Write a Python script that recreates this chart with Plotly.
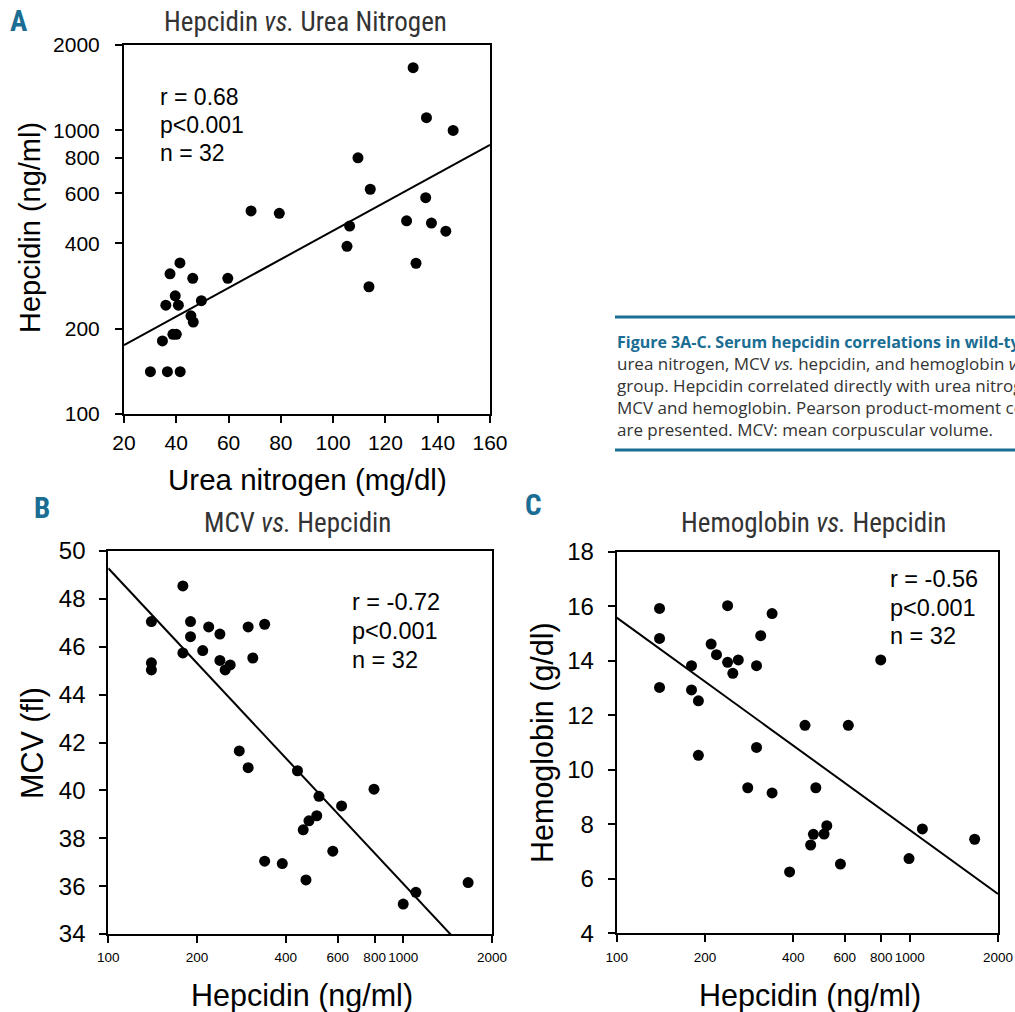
import plotly.graph_objects as go
import numpy as np

# ---------------- data ----------------
# Panel A: Hepcidin vs Urea nitrogen
urea_a = [30.1, 36.6, 41.5, 34.7, 38.7, 40.0, 45.6, 46.5, 36.0, 40.8, 39.6, 49.6,
          37.6, 41.4, 46.3, 59.7, 68.6, 79.4, 105.3, 106.3, 109.5, 114.2, 113.7,
          130.6, 135.7, 145.9, 135.4, 128.1, 137.6, 143.1, 131.7]
hep_a = [141, 141, 141, 181, 191, 191, 222, 211, 242, 242, 261, 251,
         312, 341, 301, 301, 520, 510, 390, 460, 800, 620, 281,
         1663, 1109, 1000, 579, 480, 471, 441, 340]
fit_a = {"intercept": 2.142, "slope": 0.005043}   # log10(hep) = a + b*urea

# Panel B: MCV vs Hepcidin
hep_b = [140, 140, 140, 179, 179, 190, 190, 209, 219, 239, 239, 249, 259, 298, 309, 339,
         278, 298, 438, 518, 509, 479, 458, 618, 577, 339, 389, 468, 796, 1000, 1104, 1660]
mcv_b = [47.05, 45.33, 45.03, 48.54, 45.74, 47.05, 46.42, 45.84, 46.83, 46.53, 45.43, 45.03,
         45.24, 46.83, 45.53, 46.94, 41.65, 40.95, 40.82, 39.75, 38.94, 38.73, 38.35, 39.35,
         37.46, 37.04, 36.94, 36.26, 40.05, 35.25, 35.74, 36.15]
fit_b = {"intercept": 75.64, "slope": -13.18}     # mcv = a + b*log10(hep)

# Panel C: Hemoglobin vs Hepcidin
hep_c = [140, 140, 140, 180, 180, 190, 190, 210, 219, 239, 239, 260, 249, 300, 300, 310,
         339, 280, 339, 439, 478, 469, 459, 510, 521, 389, 580, 617, 796, 994, 1104, 1665]
hgb_c = [15.92, 14.82, 13.02, 13.82, 12.93, 12.53, 10.53, 14.61, 14.22, 16.02, 13.94, 14.03,
         13.54, 13.82, 10.82, 14.92, 15.73, 9.34, 9.15, 11.63, 9.34, 7.63, 7.24, 7.64,
         7.95, 6.25, 6.54, 11.63, 14.03, 6.74, 7.83, 7.45]
fit_c = {"intercept": 31.17, "slope": -7.794}     # hgb = a + b*log10(hep)

hep_ticks = [100, 200, 400, 600, 800, 1000, 2000]
hep_ticks_a = [100, 200, 400, 600, 800, 1000, 2000]
urea_ticks = [20, 40, 60, 80, 100, 120, 140, 160]
mcv_ticks = [34, 36, 38, 40, 42, 44, 46, 48, 50]
hgb_ticks = [4, 6, 8, 10, 12, 14, 16, 18]

stats_a = ["r = 0.68", "p<0.001", "n = 32"]
stats_b = ["r = -0.72", "p<0.001", "n = 32"]
stats_c = ["r = -0.56", "p<0.001", "n = 32"]

caption_lines = [
    "urea nitrogen, MCV <i>vs.</i> hepcidin, and hemoglobin <i>vs.</i> hepcidin",
    "group. Hepcidin correlated directly with urea nitrogen and inversely",
    "MCV and hemoglobin. Pearson product-moment correlation coefficients",
    "are presented. MCV: mean corpuscular volume.",
]
caption_title = "<b>Figure 3A-C. Serum hepcidin correlations in wild-type mice</b>"

# ---------------- figure ----------------
W, H = 1015, 1012
def px(x):
    return x / W
def py(y):
    return 1 - y / H

BLUE = "#1a6d93"
AX_FONT = "Liberation Sans, Arial, sans-serif"
NARROW = "Liberation Sans Narrow, Roboto Condensed, Arial Narrow, Roboto, sans-serif"

fig = go.Figure()
marker = dict(color="black", size=11)

fig.add_trace(go.Scatter(x=urea_a, y=hep_a, mode="markers", marker=marker,
                         xaxis="x", yaxis="y", showlegend=False))
ua = np.array([20, 160])
fig.add_trace(go.Scatter(x=ua, y=10 ** (fit_a["intercept"] + fit_a["slope"] * ua),
                         mode="lines", line=dict(color="black", width=2),
                         xaxis="x", yaxis="y", showlegend=False))

fig.add_trace(go.Scatter(x=hep_b, y=mcv_b, mode="markers", marker=marker,
                         xaxis="x2", yaxis="y2", showlegend=False))
hb = np.array([100, 2000])
fig.add_trace(go.Scatter(x=hb, y=fit_b["intercept"] + fit_b["slope"] * np.log10(hb),
                         mode="lines", line=dict(color="black", width=2),
                         xaxis="x2", yaxis="y2", showlegend=False))

fig.add_trace(go.Scatter(x=hep_c, y=hgb_c, mode="markers", marker=marker,
                         xaxis="x3", yaxis="y3", showlegend=False))
fig.add_trace(go.Scatter(x=hb, y=fit_c["intercept"] + fit_c["slope"] * np.log10(hb),
                         mode="lines", line=dict(color="black", width=2),
                         xaxis="x3", yaxis="y3", showlegend=False))

def axis(domain, anchor, ticks, rng, typ="linear", fsize=19, standoff=6):
    return dict(domain=domain, anchor=anchor, type=typ, range=rng, automargin=False,
                tickmode="array", tickvals=ticks, ticktext=[str(t) for t in ticks],
                tickangle=0,
                showline=True, linecolor="black", linewidth=2, mirror=True,
                ticks="outside", ticklen=7, tickwidth=2, tickcolor="black",
                showgrid=False, zeroline=False, ticklabelstandoff=standoff,
                tickfont=dict(family=AX_FONT, size=fsize, color="black"))

fig.update_layout(
    template="none",
    width=W, height=H, margin=dict(l=0, r=0, t=0, b=0, pad=0),
    paper_bgcolor="white", plot_bgcolor="white",
    xaxis=axis([px(124), px(490)], "y", urea_ticks, [20, 160], fsize=21, standoff=2),
    yaxis=axis([py(414), py(45)], "x", hep_ticks_a, [2, np.log10(2000)], "log", fsize=21, standoff=11),
    xaxis2=axis([px(108.3), px(492)], "y2", hep_ticks, [2, np.log10(2000)], "log", fsize=13.5, standoff=3),
    yaxis2=axis([py(934), py(551)], "x2", mcv_ticks, [34, 50], fsize=24, standoff=9),
    xaxis3=axis([px(616.7), px(998)], "y3", hep_ticks, [2, np.log10(2000)], "log", fsize=13.5, standoff=3),
    yaxis3=axis([py(933.3), py(551.7)], "x3", hgb_ticks, [4, 18], fsize=24, standoff=9),
)

ann = []
def text(x, y, s, size, color="black", family=AX_FONT, xanchor="center", angle=0):
    ann.append(dict(x=px(x), y=py(y), xref="paper", yref="paper", text=s, showarrow=False,
                    xanchor=xanchor, yanchor="middle", textangle=angle,
                    font=dict(family=family, size=size, color=color)))

# panel letters
text(19, 21, "<b>A</b>", 29, BLUE, NARROW)
text(42, 508, "<b>B</b>", 29, BLUE, NARROW)
text(533, 505, "<b>C</b>", 29, BLUE, NARROW)

# titles
text(305, 22, "Hepcidin <i>vs.</i> Urea Nitrogen", 27, "#333333", NARROW)
text(297, 523, "MCV <i>vs.</i> Hepcidin", 27, "#333333", NARROW)
text(813, 523, "Hemoglobin <i>vs.</i> Hepcidin", 27, "#333333", NARROW)

# axis titles
text(307, 479, "Urea nitrogen (mg/dl)", 29.5)
text(30, 228, "Hepcidin (ng/ml)", 29, angle=-90)
text(302, 995, "Hepcidin (ng/ml)", 30.5)
text(32, 743, "MCV (fl)", 30.5, angle=-90)
text(810, 995, "Hepcidin (ng/ml)", 30.5)
text(542, 743, "Hemoglobin (g/dl)", 30.5, angle=-90)

# stats
for i, s in enumerate(stats_a):
    text(158, 97 + 28 * i, s, 23, xanchor="left")
for i, s in enumerate(stats_b):
    text(350, 602 + 29 * i, s, 23.5, xanchor="left")
for i, s in enumerate(stats_c):
    text(888, 579 + 28.5 * i, s, 23.5, xanchor="left")

# caption
CAP = "Open Sans, Noto Sans, sans-serif"
text(615, 342, caption_title, 16, BLUE, CAP, xanchor="left")
for i, s in enumerate(caption_lines):
    text(615, 364 + 21.7 * i, s, 17, "#333333", CAP, xanchor="left")
fig.update_layout(annotations=ann)

fig.add_shape(type="line", xref="paper", yref="paper", x0=px(615), x1=1.0,
              y0=py(317), y1=py(317), line=dict(color=BLUE, width=3))
fig.add_shape(type="line", xref="paper", yref="paper", x0=px(615), x1=1.0,
              y0=py(450), y1=py(450), line=dict(color=BLUE, width=3))

fig.write_html("out.html", config={"displayModeBar": False},
               post_script="document.body.style.margin='0px';")
